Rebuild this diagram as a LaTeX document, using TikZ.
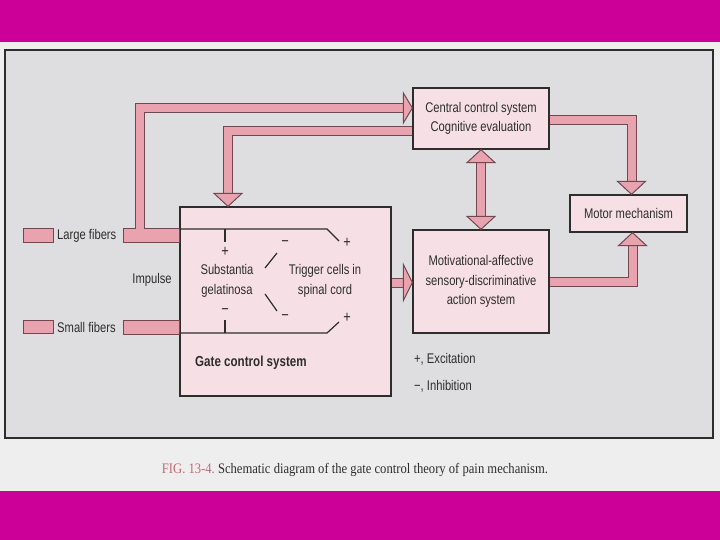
\documentclass[tikz,border=0pt]{standalone}
\usepackage{fontspec}
\setmainfont{Liberation Sans}[FakeStretch=0.8]
\newfontfamily\capfont{Liberation Serif}[FakeStretch=0.87]
\usetikzlibrary{positioning, calc}
\definecolor{bandmag}{RGB}{204,0,153}
\definecolor{pagegray}{RGB}{238,238,238}
\definecolor{panelgray}{RGB}{222,222,224}
\definecolor{boxpink}{RGB}{247,224,229}
\definecolor{pipepink}{RGB}{233,163,174}
\definecolor{pipedark}{RGB}{112,72,82}
\definecolor{inkgray}{RGB}{45,45,45}
\definecolor{capred}{RGB}{196,104,116}
\tikzset{
    box/.style={draw=inkgray, line width=1.3pt, fill=boxpink, align=center, inner sep=0pt,
        text=inkgray, font=\fontsize{14}{19.5}\selectfont},
    stub/.style={draw=pipedark, line width=1pt, fill=pipepink, minimum width=30, minimum height=13, inner sep=0pt},
    txt/.style={text=inkgray, inner sep=0pt, align=center, font=\fontsize{14}{20}\selectfont},
    sign/.style={text=inkgray, inner sep=0pt, font=\fontsize{16}{16}\selectfont},
    pipeout/.style={draw=pipedark, line width=10pt},
    pipein/.style={draw=pipepink, line width=8pt},
    fiber/.style={draw=pipedark, line width=1pt, fill=pipepink},
    thin/.style={draw=inkgray, line width=1.2pt},
    head/.style={draw=pipedark, line width=1pt, fill=pipepink, line join=miter},
    headright/.pic={\filldraw[head] (0,0) -- (-9,-15) -- (-9,15) -- cycle;},
    headwide/.pic={\filldraw[head] (0,0) -- (-9,-18) -- (-9,18) -- cycle;},
    headdown/.pic={\filldraw[head] (0,0) -- (-14,-13) -- (14,-13) -- cycle;},
    headup/.pic={\filldraw[head] (0,0) -- (-14,13) -- (14,13) -- cycle;}
}

\begin{document}
\begin{tikzpicture}[x=1pt, y=-1pt]
    \useasboundingbox (0,0) rectangle (720,540);
    % Page, bands and panel
    \fill[pagegray] (0,0) rectangle (720,540);
    \fill[bandmag] (0,0) rectangle (720,42);
    \fill[bandmag] (0,491) rectangle (720,540);
    \filldraw[fill=panelgray, draw=inkgray, line width=1.5pt] (5,50) rectangle (713,438);

    % Boxes
    \node[box, minimum width=136, minimum height=61] (central) at (481,118.5)
        {Central control system\\Cognitive evaluation};
    \node[box, minimum width=117, minimum height=37] (motor) at (628.5,213.5) {Motor mechanism};
    \node[box, minimum width=136, minimum height=103] (motiv) at (481,281.5)
        {Motivational-affective\\sensory-discriminative\\action system};
    \node[box, minimum width=211, minimum height=189] (gate) at (285.5,301.5) {};

    % Fiber inputs
    \node[stub] (lfstub) at (38,235.5) {};
    \node[txt, anchor=west] (lftext) at (57,236) {Large fibers};
    \node[stub] (sfstub) at (38,327) {};
    \node[txt, anchor=west] (sftext) at (57,327.5) {Small fibers};
    \node[txt] (impulse) at (152,280) {Impulse};
    \coordinate (rise) at (140,228);
    \coordinate (gout) at ($(gate.east)+(0,-19)$);
    \draw[fiber] (123,228.5) rectangle (gate.west |- 0,242.5);
    \draw[fiber] (123,320.5) rectangle (gate.west |- 0,334);

    % Thick connectors, outline first
    \draw[pipeout] (rise) |- ($(central.west)+(-9,-10.5)$);
    \draw[pipeout] ($(central.west)+(0,12.5)$) -| ($(gate.north)+(-57.5,-13)$);
    \draw[pipeout] ($(central.east)+(0,1.5)$) -| ($(motor.north)+(3,-13)$);
    \draw[pipeout] (motiv.east) -| ($(motor.south)+(4,13)$);
    \draw[pipeout] ($(central.south)+(0,13)$) -- ($(motiv.north)+(0,-13)$);
    \draw[pipeout] (gout) -- ($(motiv.west |- gout)+(-9,0)$);
    % then the pink fill
    \draw[pipein] ($(rise)+(0,3)$) |- ($(central.west)+(-9,-10.5)$);
    \draw[pipein] ($(central.west)+(0,12.5)$) -| ($(gate.north)+(-57.5,-13)$);
    \draw[pipein] ($(central.east)+(0,1.5)$) -| ($(motor.north)+(3,-13)$);
    \draw[pipein] (motiv.east) -| ($(motor.south)+(4,13)$);
    \draw[pipein] ($(central.south)+(0,13)$) -- ($(motiv.north)+(0,-13)$);
    \draw[pipein] (gout) -- ($(motiv.west |- gout)+(-9,0)$);
    % Arrow heads
    \pic at ($(central.west)+(0,-10.5)$) {headright};
    \pic at ($(gate.north)+(-57.5,0)$) {headdown};
    \pic at ($(motor.north)+(3,0)$) {headdown};
    \pic at ($(motor.south)+(4,0)$) {headup};
    \pic at (central.south) {headup};
    \pic at (motiv.north) {headdown};
    \pic at (motiv.west |- gout) {headwide};

    % Inside the gate
    \node[txt] (sg) at (227,280.5) {Substantia\\gelatinosa};
    \node[txt] (tc) at (325,280.5) {Trigger cells in\\spinal cord};
    \node[txt, anchor=west, font=\fontsize{14.5}{20}\selectfont\bfseries] (gcs) at (195,363) {Gate control system};
    \draw[thin] (gate.west |- 0,229) -- (327,229) -- (339,241);
    \draw[thin] (gate.west |- 0,333) -- (327,333) -- (339,322);
    \draw[thin] (225,229) -- (225,242);
    \draw[thin] (225,320) -- (225,333);
    \draw[thin] (265,268) -- (277,253);
    \draw[thin] (265,294) -- (277,311);
    \node[sign] (p1) at (347,243) {+};
    \node[sign] (p2) at (347,318) {+};
    \node[sign] (p3) at (225,252) {+};
    \node[sign] (m1) at (285,244) {−};
    \node[sign] (m2) at (285,318) {−};
    \node[sign] (m3) at (225,312) {−};

    % Legend
    \node[txt, anchor=west] (exc) at (414,359) {+, Excitation};
    \node[txt, anchor=west] (inh) at (414,386) {−, Inhibition};

    % Caption
    \node[inner sep=0pt, text=inkgray, font=\capfont\fontsize{14.5}{16}\selectfont] (cap) at (355,470)
        {{\color{capred}FIG. 13-4.}\ Schematic diagram of the gate control theory of pain mechanism.};
\end{tikzpicture}
\end{document}
